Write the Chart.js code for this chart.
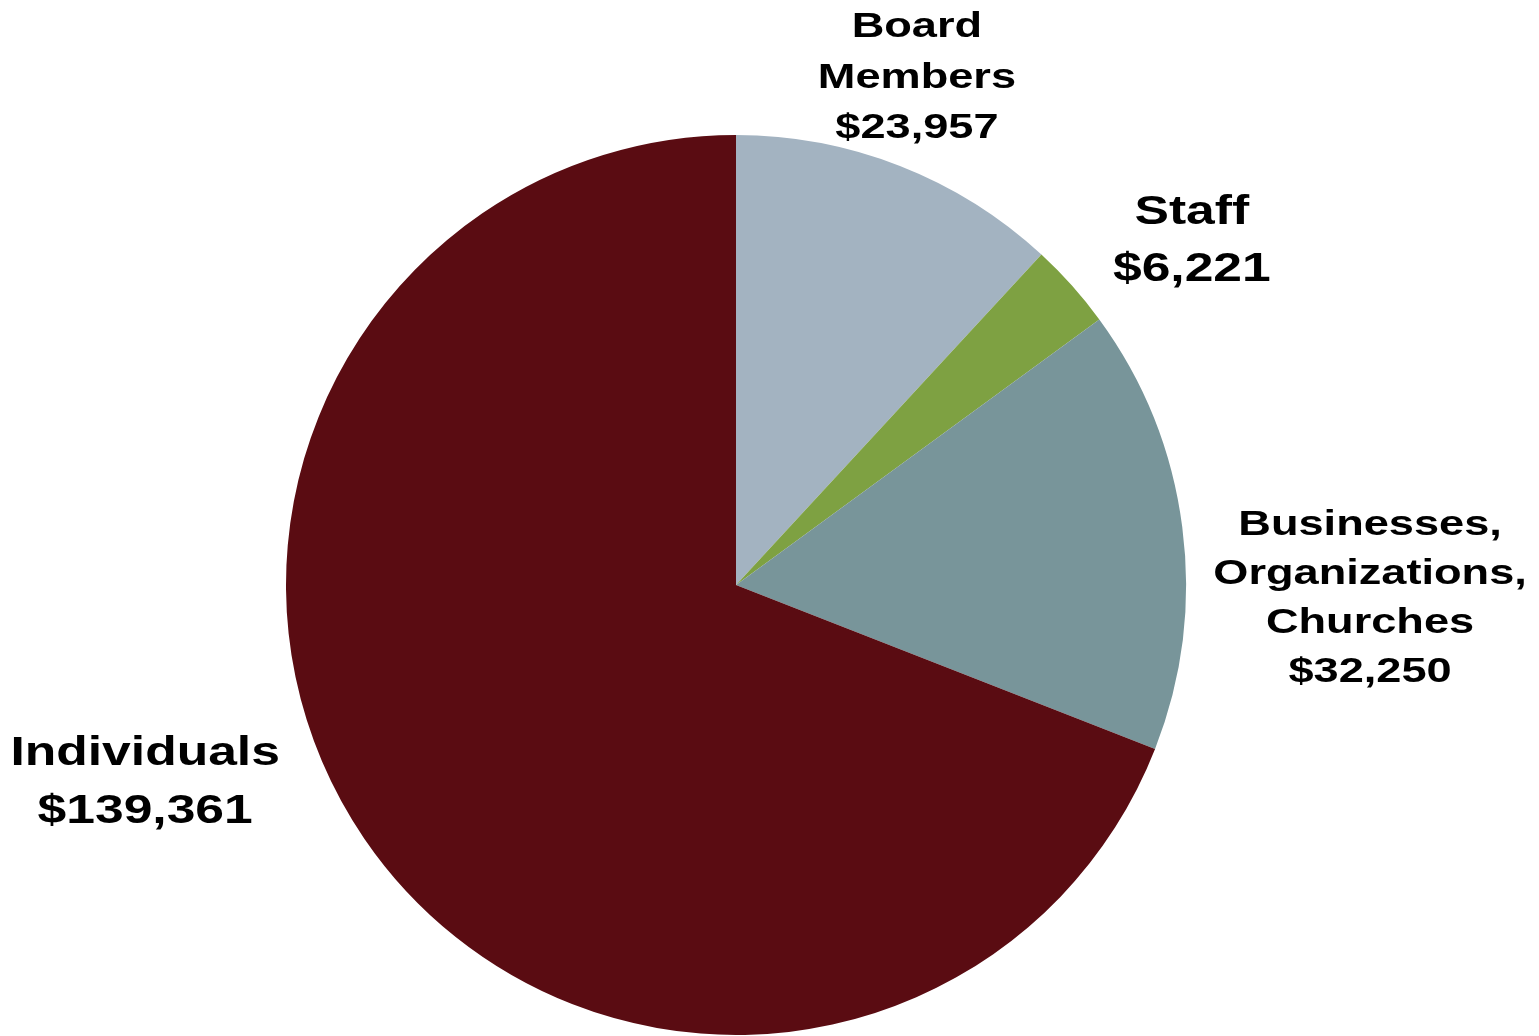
<!DOCTYPE html>
<html>
<head>
<meta charset="utf-8">
<script src="https://cdn.jsdelivr.net/npm/chart.js@4/dist/chart.umd.min.js"></script>
<style>
  html, body { margin: 0; padding: 0; background: #fff; }
  #wrap { width: 1539px; height: 1036px; position: relative; }
</style>
</head>
<body>
<div id="wrap"><canvas id="pie"></canvas></div>
<script>
// Contribution sources, clockwise from 12 o'clock
const categories = [
  ["Board", "Members"],
  ["Staff"],
  ["Businesses,", "Organizations,", "Churches"],
  ["Individuals"],
];
const amounts = [23957, 6221, 32250, 139361];
const sliceColors = ["#a3b3c1", "#7ea142", "#78959a", "#5a0c12"];

// label block placement, relative to pie centre in units of radius
// (x = centre of text, y = first baseline), plus font size / line step
const labelLayout = [
  { dx: 0.402, dy: -1.217, size: 35, step: 50.5 },
  { dx: 1.013, dy: -0.803, size: 40, step: 57 },
  { dx: 1.409, dy: -0.112, size: 35, step: 49 },
  { dx: -1.313, dy: 0.399, size: 40, step: 58 },
];
const textStretch = 1.29;

const money = (v) => "$" + v.toLocaleString("en-US");

const sliceLabels = {
  id: "sliceLabels",
  afterDatasetsDraw(chart) {
    const ctx = chart.ctx;
    const arcs = chart.getDatasetMeta(0).data;
    arcs.forEach((arc, i) => {
      const { x, y, outerRadius } = arc.getProps(["x", "y", "outerRadius"], true);
      const lay = labelLayout[i];
      const lines = [...categories[i], money(amounts[i])];
      const cx = x + lay.dx * outerRadius;
      let by = y + lay.dy * outerRadius;
      ctx.save();
      ctx.fillStyle = "#000";
      ctx.font = `bold ${lay.size}px "Liberation Sans", Arial, sans-serif`;
      ctx.textAlign = "center";
      ctx.textBaseline = "alphabetic";
      lines.forEach((line) => {
        ctx.save();
        ctx.translate(cx, by);
        ctx.scale(textStretch, 1);
        ctx.fillText(line, 0, 0);
        ctx.restore();
        by += lay.step;
      });
      ctx.restore();
    });
  },
};

new Chart(document.getElementById("pie"), {
  type: "pie",
  data: {
    labels: categories.map((c) => c.join(" ")),
    datasets: [
      {
        data: amounts,
        backgroundColor: sliceColors,
        borderWidth: 0,
      },
    ],
  },
  options: {
    responsive: true,
    maintainAspectRatio: false,
    animation: false,
    layout: { padding: { left: 286, right: 353, top: 135, bottom: 1 } },
    plugins: {
      legend: { display: false },
      tooltip: { enabled: false },
    },
  },
  plugins: [sliceLabels],
});
</script>
</body>
</html>
